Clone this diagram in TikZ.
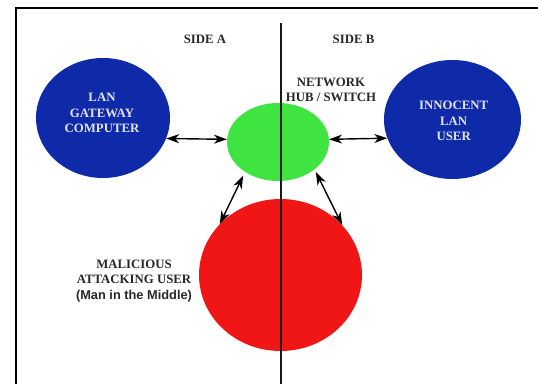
\documentclass[tikz,border=0pt]{standalone}
\usepackage{fontspec}
\setmainfont{Liberation Serif}
\newfontfamily\labsans{Liberation Sans}
\usetikzlibrary{shapes.geometric,arrows.meta}
\definecolor{nodeblue}{RGB}{14,42,168}
\definecolor{hubgreen}{RGB}{64,228,64}
\definecolor{mitmred}{RGB}{240,22,22}
\definecolor{labgray}{RGB}{40,40,40}
\definecolor{lightlab}{RGB}{225,228,238}
\tikzset{
  x=1pt,y=1pt,
  blob/.style={ellipse,inner sep=0pt},
  lab/.style={align=center,font=\fontsize{12.8}{15.2}\selectfont\bfseries,text=labgray},
  inlab/.style={lab,text=lightlab},
  link/.style={draw=black,line width=1.4pt,
    {Stealth[length=13pt,width=9pt,inset=4pt]}-{Stealth[length=13pt,width=9pt,inset=4pt]}},
  divider/.style={line width=2.4pt,draw=black!90},
  framebox/.style={line width=2pt,draw=black}
}
\begin{document}
\begin{tikzpicture}
\clip (0,0) rectangle (538,383);
\fill[white] (0,0) rectangle (538,383);
\draw[framebox] (15.5,-5) -- (15.5,374.5) -- (545,374.5);

\node[blob,fill=nodeblue,minimum width=134,minimum height=120] (gw) at (103,265) {};
\node[blob,fill=nodeblue,minimum width=137,minimum height=119] (user) at (452.5,263.5) {};
\node[blob,fill=hubgreen,minimum width=102,minimum height=78] (hub) at (278,241) {};
\node[blob,fill=mitmred,minimum width=163,minimum height=152] (mitm) at (280.5,108) {};

\coordinate (ltop) at (281,360);
\coordinate (lbot) at (281,-5);
\draw[divider] (ltop) -- (lbot);

\node[lab] (sidea) at (205,344) {SIDE A};
\node[lab] (sideb) at (353.5,344) {SIDE B};
\node[lab] (hublab) at (331,293) {NETWORK\\HUB / SWITCH};
\node[inlab] (gwlab) at (102,270) {LAN\\GATEWAY\\COMPUTER};
\node[inlab] (userlab) at (453.7,262) {INNOCENT\\LAN\\USER};
\node[lab] (mitmlab) at (134,102) {MALICIOUS\\ATTACKING USER\\{\labsans (Man in the Middle)}};

\draw[link] (gw.-18) -- (hub.177);
\draw[link] (hub.3) -- (user.196);
\draw[link] ([shift={(-3,-3)}]hub.224) -- (mitm.140);
\draw[link] ([shift={(2,-2)}]hub.-38) -- (mitm.39);
\end{tikzpicture}
\end{document}
